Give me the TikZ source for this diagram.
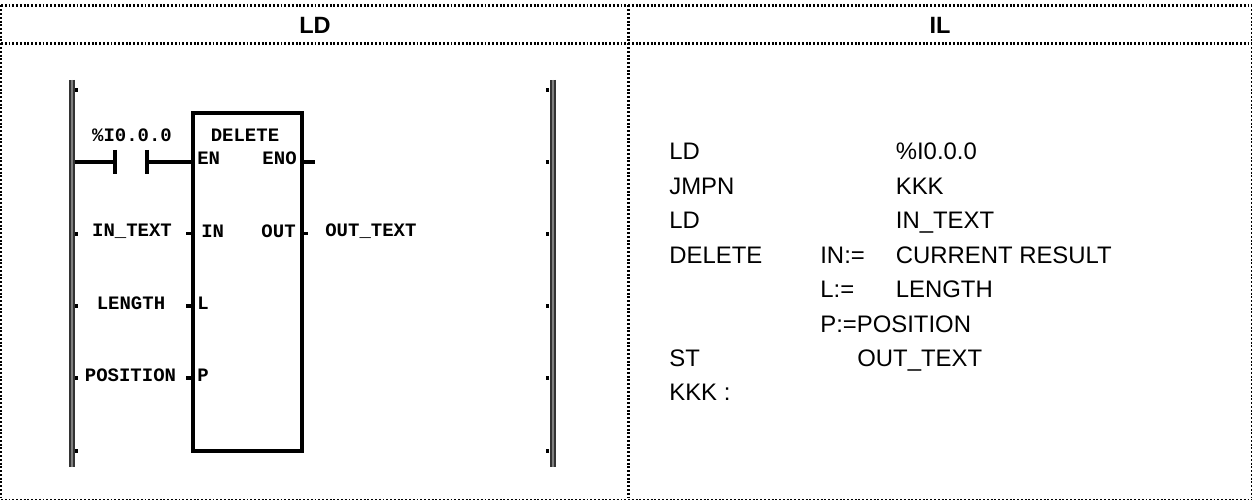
\documentclass[tikz,border=0pt]{standalone}
\usepackage{fontspec}
\setmainfont{Liberation Sans}
\newfontfamily\ladderfont{Liberation Mono}
\usetikzlibrary{positioning}

\begin{document}
\begin{tikzpicture}[
  x=0.02cm, y=-0.02cm,
  tablerule/.style={line width=1.45pt, dash pattern=on 1.1pt off 1.05pt},
  tablethin/.style={line width=0.8pt, dash pattern=on 1.1pt off 1.05pt},
  headlabel/.style={font=\fontsize{13.4pt}{15pt}\selectfont\bfseries, inner sep=0pt},
  ilword/.style={font=\fontsize{13.6pt}{15pt}\selectfont, anchor=base west, inner sep=0pt},
  varlabel/.style={font=\ladderfont\bfseries\fontsize{10.8pt}{12pt}\selectfont, inner sep=0pt},
  pinlabel/.style={varlabel, anchor=west},
  pinlabelr/.style={varlabel, anchor=east},
  rail/.style={draw=black!80, line width=1.1pt, double=black!50, double distance=1.3pt},
  wire/.style={line width=1.9pt},
  stub/.style={line width=1.9pt},
  funcblock/.style={draw, line width=1.9pt, minimum width=2.18cm, minimum height=6.76cm, inner sep=0pt},
]
\useasboundingbox (0,0) rectangle (1252,500);

% ===== Table rules =====
\coordinate (tl) at (1,5.5);
\coordinate (tr) at (1251.4,5.5);
\coordinate (hl) at (1,43.5);
\coordinate (hr) at (1251.4,43.5);
\coordinate (bl) at (1,499.3);
\coordinate (br) at (1251.4,499.3);
\coordinate (mt) at (628.5,5.5);
\coordinate (mb) at (628.5,499.3);
\draw[tablerule] (tl) -- (tr);
\draw[tablerule] (hl) -- (hr);
\draw[tablerule] (tl) -- (bl);
\draw[tablerule] (mt) -- (mb);
\draw[tablethin] (bl) -- (br);
\draw[tablethin] (tr) -- (br);

\node[headlabel] (ldhead) at (315,25) {LD};
\node[headlabel] (ilhead) at (940,25) {IL};

% ===== Power rails =====
\coordinate (railLt) at (72.3,80);
\coordinate (railLb) at (72.3,467);
\coordinate (railRt) at (552.7,80);
\coordinate (railRb) at (552.7,467);
\draw[rail] (railLt) -- (railLb);
\draw[rail] (railRt) -- (railRb);

\foreach \ty [count=\ti] in {90,162,234,306,378,451} {
  \coordinate (tickL\ti) at (75,\ty);
  \coordinate (tickLe\ti) at (77.5,\ty);
  \coordinate (tickR\ti) at (549,\ty);
  \coordinate (tickRe\ti) at (546,\ty);
  \ifnum\ti=2 \else \draw[stub] (tickL\ti) -- (tickLe\ti); \fi
  \draw[stub] (tickR\ti) -- (tickRe\ti);
}

% ===== Function block =====
\node[funcblock] (fb) at (247.5,282) {};
\node[varlabel] (fbname) at (245,135) {DELETE};

\node[pinlabel] (pEN) at (197,158) {EN};
\node[pinlabelr] (pENO) at (297,158) {ENO};
\node[pinlabel] (pIN) at (201,231) {IN};
\node[pinlabelr] (pOUT) at (296,231) {OUT};
\node[pinlabel] (pL) at (197,303) {L};
\node[pinlabel] (pP) at (197,375) {P};

% ===== Contact and rung =====
\coordinate (en) at (193,162);
\coordinate (conA) at (115,162);
\coordinate (conB) at (147,162);
\coordinate (conAt) at (115,150);
\coordinate (conAb) at (115,174);
\coordinate (conBt) at (147,150);
\coordinate (conBb) at (147,174);
\node[varlabel] (contact) at (132,135) {\%I0.0.0};

\draw[wire] (tickL2) -- (conA);
\draw[wire] (conAt) -- (conAb);
\draw[wire] (conBt) -- (conBb);
\draw[wire] (conB) -- (en);

% ===== Variables and pin stubs =====
\node[varlabel] (vIN) at (132,231) {IN\_TEXT};
\node[varlabel] (vL) at (131,303) {LENGTH};
\node[varlabel] (vP) at (130.5,375) {POSITION};
\node[varlabel, anchor=west] (vOUT) at (325,231) {OUT\_TEXT};

\coordinate (sIN) at (186,233.5);
\coordinate (sL) at (186,306);
\coordinate (sP) at (186,378);
\coordinate (eIN) at (193,233.5);
\coordinate (eL) at (193,306);
\coordinate (eP) at (193,378);
\coordinate (sENO) at (302,162);
\coordinate (eENO) at (315,162);
\coordinate (sOUT) at (302,233.5);
\coordinate (eOUT) at (308,233.5);

\draw[stub] (sIN) -- (eIN);
\draw[stub] (sL) -- (eL);
\draw[stub] (sP) -- (eP);
\draw[wire] (sENO) -- (eENO);
\draw[stub] (sOUT) -- (eOUT);

% ===== IL listing =====
\node[ilword] (il1) at (669,160) {LD};
\node[ilword] (il1a) at (895.5,160) {\%I0.0.0};
\node[ilword] (il2) at (669,194.4) {JMPN};
\node[ilword] (il2a) at (895.5,194.4) {KKK};
\node[ilword] (il3) at (669,228.8) {LD};
\node[ilword] (il3a) at (895.5,228.8) {IN\_TEXT};
\node[ilword] (il4) at (669,263.2) {DELETE};
\node[ilword] (il4a) at (820,263.2) {IN:=};
\node[ilword] (il4b) at (895.5,263.2) {CURRENT RESULT};
\node[ilword] (il5a) at (820,297.6) {L:=};
\node[ilword] (il5b) at (895.5,297.6) {LENGTH};
\node[ilword] (il6a) at (820,332) {P:=POSITION};
\node[ilword] (il7) at (669,366.4) {ST};
\node[ilword] (il7a) at (857,366.4) {OUT\_TEXT};
\node[ilword] (il8) at (669,400.8) {KKK :};

\end{tikzpicture}
\end{document}
